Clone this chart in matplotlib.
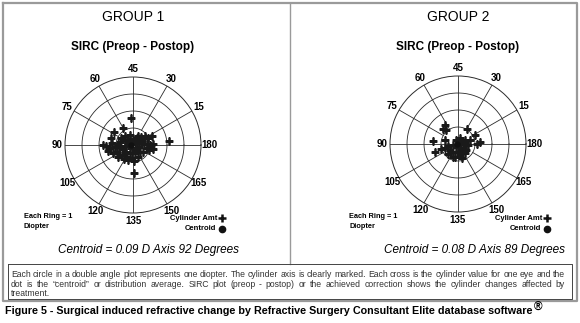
import numpy as np
import matplotlib
matplotlib.use("Agg")
import matplotlib.pyplot as plt

plt.rcParams['font.family'] = ['Liberation Sans', 'DejaVu Sans']

# cylinder amount (D) and axis (deg) for each eye
g1_cyl = [1.60, 1.17, 1.33, 1.37, 1.75, 1.58, 2.10, 1.63, 1.23, 1.22, 0.89, 0.62, 0.55, 0.79, 1.06, 1.36,
          1.04, 0.89, 0.78, 0.78, 0.62, 0.57, 0.82, 1.00, 1.20, 0.24, 0.54, 0.45, 0.27, 0.22, 0.50, 0.76,
          0.52, 1.10, 1.26, 0.35, 0.64, 0.98, 0.65, 0.36, 0.45, 0.90, 0.36, 0.18, 0.75, 0.57, 0.95, 0.95,
          1.05, 1.26, 0.83, 0.63, 0.40, 0.85, 0.97, 0.36, 1.54, 0.63, 0.14, 0.81, 1.00, 0.71]
g1_axis = [47, 60, 73, 81, 90, 91, 3, 136, 174, 13, 18, 53, 74, 83, 93, 94,
           101, 111, 121, 132, 102, 158, 173, 180, 2, 12, 11, 30, 90, 124, 142, 147,
           125, 109, 101, 45, 22, 12, 2, 172, 93, 88, 73, 28, 162, 112, 137, 126,
           179, 87, 74, 31, 60, 2, 118, 152, 97, 14, 68, 94, 171, 65]

g2_cyl = [1.36, 1.07, 1.23, 1.01, 1.11, 1.27, 1.12, 1.48, 0.82, 1.44, 0.82, 0.60, 0.34, 0.26, 0.24, 0.59,
          0.60, 0.66, 0.78, 0.81, 0.86, 0.19, 0.38, 0.30, 1.03, 0.73, 0.45, 0.60, 0.67, 0.14, 0.11, 0.35,
          0.81, 0.38, 0.61, 0.47]
g2_axis = [62, 65, 68, 29, 14, 2, 180, 87, 81, 99, 99, 108, 37, 56, 17, 177,
           162, 139, 128, 112, 142, 119, 160, 96, 99, 10, 135, 115, 153, 180, 32, 4,
           124, 147, 95, 16]

centroid_cyl = [0.09, 0.08]
centroid_axis = [92, 89]

groups = ["GROUP 1", "GROUP 2"]
axis_labels = ["180", "15", "30", "45", "60", "75", "90", "105", "120", "135", "150", "165"]
caption_lines = [
    "Each circle in a double angle plot represents one diopter. The cylinder axis is clearly marked. "
    "Each cross is the cylinder value for one eye and the",
    "dot is the \u201ccentroid\u201d or  distribution  average. SIRC plot (preop - postop) or the achieved "
    "correction shows the cylinder changes affected by",
    "treatment.",
]
fig_caption = "Figure 5 - Surgical induced refractive change by Refractive Surgery Consultant Elite database software"

W, H = 580, 323
fig = plt.figure(figsize=(W / 100, H / 100), dpi=100)
fig.patch.set_facecolor("white")

# background axes in pixel coords (y down)
bg = fig.add_axes([0, 0, 1, 1], zorder=0)
bg.set_xlim(0, W)
bg.set_ylim(H, 0)
bg.axis("off")

frame_col = "#9a9a9a"
bg.plot([3, 577, 577, 3, 3], [3, 3, 301, 301, 3], color=frame_col, lw=1.6)
bg.plot([289.5, 289.5], [3, 264], color=frame_col, lw=1.0)
bg.plot([8, 572, 572, 8, 8], [264, 264, 298.5, 298.5, 264], color="#444444", lw=0.7)

centers = [(133, 145), (458, 144)]
R = 68
data = [(g1_cyl, g1_axis), (g2_cyl, g2_axis)]
grid_col = "#2a2a2a"

for i, (cx, cy) in enumerate(centers):
    ax = fig.add_axes([(cx - R) / W, 1 - (cy + R) / H, 2 * R / W, 2 * R / H],
                      projection="polar", zorder=2)
    ax.set_ylim(0, 4)
    ax.set_xticks([])
    ax.set_yticks([])
    ax.grid(False)
    ax.spines["polar"].set_color(grid_col)
    ax.spines["polar"].set_linewidth(0.7)
    th = np.linspace(0, 2 * np.pi, 361)
    for r in (1, 2, 3):
        ax.plot(th, np.full_like(th, r), color=grid_col, lw=0.6)
    for k, lbl in enumerate(axis_labels):
        a = np.radians(30 * k)
        r0 = 0 if k % 3 == 0 else 1
        ax.plot([a, a], [r0, 4], color=grid_col, lw=0.6)
        ax.text(a, 4.47, lbl, ha="center", va="center", fontsize=7, fontweight="bold", clip_on=False)

    cyl, axd = data[i]
    ax.plot(np.radians(2 * np.array(axd)), cyl, "+", ms=5.8, mew=1.8, color="#1a1a1a", zorder=3)
    ax.plot(np.radians(2 * centroid_axis[i]), centroid_cyl[i], "o", ms=3.5, color="#111111", zorder=4)

    bg.text(cx, 17, groups[i], ha="center", va="center", fontsize=10)
    bg.text(cx, 47, "SIRC (Preop - Postop)", ha="center", va="center", fontsize=8.5, fontweight="bold")
    bg.text(cx - 109, 216, "Each Ring = 1", ha="left", va="center", fontsize=5.3, fontweight="bold")
    bg.text(cx - 109, 227, "Diopter", ha="left", va="center", fontsize=5.3, fontweight="bold")
    bg.text(cx + 84, 218, "Cylinder Amt", ha="right", va="center", fontsize=5.5, fontweight="bold")
    bg.text(cx + 83, 228.5, "Centroid", ha="right", va="center", fontsize=5.5, fontweight="bold")
    bg.plot(cx + 88.5, 218, "+", ms=5.5, mew=1.8, color="#111111")
    bg.plot(cx + 88.5, 229, "o", ms=4.5, color="#111111")
    bg.text(cx + 16, 250, "Centroid = %.2f D Axis %d Degrees" % (centroid_cyl[i], centroid_axis[i]),
            ha="center", va="center", fontsize=8.5, fontstyle="italic")

renderer = fig.canvas.get_renderer()


def justify(text, x0, x1, y, **kw):
    words = text.split()
    ts = [bg.text(0, y, w, va="center", **kw) for w in words]
    widths = [t.get_window_extent(renderer).width for t in ts]
    gap = (x1 - x0 - sum(widths)) / (len(words) - 1)
    x = x0
    for t, w in zip(ts, widths):
        t.set_x(x)
        x += w + gap


cap_kw = dict(fontsize=6.2, color="#333333")
justify(caption_lines[0], 11, 565, 274.5, **cap_kw)
justify(caption_lines[1], 11, 565, 284.5, **cap_kw)
bg.text(11, 294, caption_lines[2], va="center", **cap_kw)

ft = bg.text(5, 311, fig_caption, ha="left", va="center", fontsize=7.75, fontweight="bold")
ext = ft.get_window_extent(renderer)
bg.text(ext.x1 + 1, 307, "\u00ae", ha="left", va="center", fontsize=8.5, fontweight="bold")

fig.savefig("out.png", dpi=100, facecolor="white")
